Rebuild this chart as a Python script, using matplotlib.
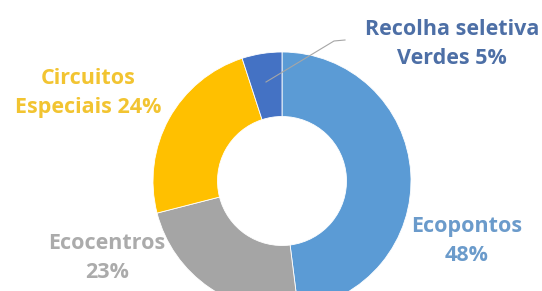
import matplotlib.pyplot as plt

# slices, clockwise from 12 o'clock
labels = ["Ecopontos", "Ecocentros", "Circuitos\nEspeciais", "Recolha seletiva\nVerdes"]
shares = [48, 23, 24, 5]
colors = ["#5B9BD5", "#A5A5A5", "#FFC000", "#4472C4"]
text_colors = ["#6B9BCB", "#ABABAB", "#F2C431", "#4D6FA6"]

plt.rcParams['font.family'] = ['Open Sans', 'DejaVu Sans']

fig = plt.figure(figsize=(5.42, 2.91), dpi=100)
ax = fig.add_axes([0, 0, 1, 1])

# centre sits low, the bottom of the ring is cut off
cx, cy, r = 282, 110, 129
ax.pie(shares, colors=colors, startangle=90, counterclock=False,
       center=(cx, cy), radius=r, frame=True,
       wedgeprops=dict(width=r * 0.5, edgecolor='white', linewidth=0.6))
ax.set_xlim(0, 542)
ax.set_ylim(0, 291)
ax.set_aspect('equal')
ax.axis('off')

fs = 15.5
label_text = {
    0: ("Ecopontos\n48%", (467, 291 - 241)),
    1: ("Ecocentros\n23%", (107, 291 - 258)),
    2: ("Circuitos\nEspeciais 24%", (88, 291 - 93)),
    3: ("Recolha seletiva\nVerdes 5%", (452, 291 - 44)),
}
for i, (txt, (x, y)) in label_text.items():
    ax.text(x, y, txt, ha='center', va='center', fontsize=fs, fontweight='bold',
            color=text_colors[i], linespacing=1.55)

# leader line for the small slice
ax.plot([266, 334, 345], [291 - 82, 291 - 41, 291 - 40], color='#A6A6A6', lw=0.8, zorder=5)

fig.savefig("out.png", dpi=100)
